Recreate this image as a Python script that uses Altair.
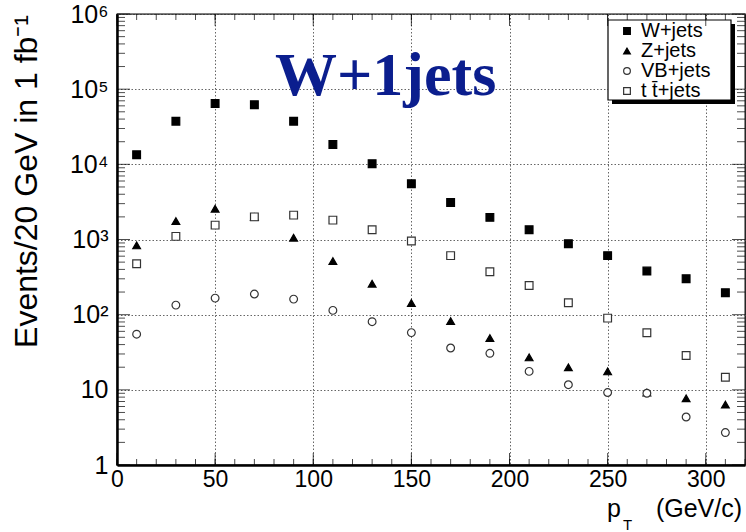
import altair as alt
import pandas as pd

# ---- data ----
pt_bins = [10, 30, 50, 70, 90, 110, 130, 150, 170, 190, 210, 230, 250, 270, 290, 310]
w_jets = [13400, 37500, 64500, 62000, 37500, 18400, 10200, 5520, 3110, 1970, 1350, 880, 610, 380, 301, 196]
z_jets = [835, 1760, 2570, 1990, 1057, 516, 258, 143, 82, 48.8, 27, 19.9, 17.6, 9.2, 7.7, 6.35]
vb_jets = [55, 134, 166, 188, 161, 114, 80.7, 57.7, 36, 30.6, 17.6, 11.7, 9.2, 9.0, 4.35, 2.7]
tt_jets = [477, 1100, 1553, 2000, 2110, 1810, 1350, 953, 610, 373, 245, 144, 90, 57.6, 28.7, 14.7]

series_names = ["W+jets", "Z+jets", "VB+jets", "t t\u0304+jets"]
series_shapes = ["square", "triangle-up", "circle", "square"]
series_fills = ["black", "black", "white", "white"]
series_strokes = ["black", "black", "#333333", "#333333"]

x_major = [0, 50, 100, 150, 200, 250, 300]
x_minor = list(range(0, 321, 10))
y_major = [1, 10, 100, 1000, 10000, 100000, 1000000]
y_labels = ["1", "10", "10\u00b2", "10\u00b3", "10\u2074", "10\u2075", "10\u2076"]
y_minor = [k * 10 ** d for d in range(6) for k in range(2, 10)]

title_text = "W+1jets"
y_title = "Events/20 GeV in 1 fb\u207b\u00b9"
x_title_main = "p"
x_title_sub = "T"
x_title_unit = "(GeV/c)"

W, H = 628, 451
FONT = "Liberation Sans"

rows = []
for name, vals in zip(series_names, [w_jets, z_jets, vb_jets, tt_jets]):
    for x, v in zip(pt_bins, vals):
        rows.append({"pt": x, "events": v, "series": name})
df = pd.DataFrame(rows)

xscale = alt.Scale(domain=[0, 320], nice=False, zero=False)
yscale = alt.Scale(type="log", domain=[1, 1000000], nice=False)

# label expression built from the label list
expr = "'" + y_labels[-1] + "'"
for v, lab in reversed(list(zip(y_major[:-1], y_labels[:-1]))):
    expr = f"datum.value < {v * 3} ? '{lab}' : " + expr

xaxis = alt.Axis(values=x_major, ticks=False, grid=True, title=None, labelFontSize=23,
                 labelFont=FONT, labelColor="black", labelPadding=3, labelFlush=False,
                 labelOverlap=False, domainColor="black", domainWidth=2.5,
                 gridColor="#666666", gridDash=[1.5, 2], gridWidth=1)
yaxis = alt.Axis(values=y_major, ticks=False, grid=True, title=None, labelFontSize=25,
                 labelFont=FONT, labelColor="black", labelPadding=9, labelFlush=False,
                 labelOverlap=False, labelExpr=expr, domainColor="black", domainWidth=2.5,
                 gridColor="#666666", gridDash=[1.5, 2], gridWidth=1)

legend = alt.Legend(orient="none", legendX=500, legendY=7, title=None,
                    padding=0, labelFont=FONT, labelFontSize=20,
                    labelColor="black", symbolSize=45, symbolStrokeWidth=1.2,
                    symbolStrokeColor="black", rowPadding=0, labelOffset=4)

points = alt.Chart(df).mark_point(size=60, strokeWidth=1.2, opacity=1, fillOpacity=1).encode(
    x=alt.X("pt:Q", scale=xscale, axis=xaxis),
    y=alt.Y("events:Q", scale=yscale, axis=yaxis),
    shape=alt.Shape("series:N", scale=alt.Scale(domain=series_names, range=series_shapes), legend=legend),
    fill=alt.Fill("series:N", scale=alt.Scale(domain=series_names, range=series_fills), legend=legend),
    stroke=alt.Stroke("series:N", scale=alt.Scale(domain=series_names, range=series_strokes), legend=legend),
)


def yticks(vals, length, right):
    xpos = W - length / 2 if right else length / 2
    return alt.Chart(pd.DataFrame({"v": vals})).mark_tick(
        orient="horizontal", color="black", thickness=1, size=length).encode(
        y=alt.Y("v:Q", scale=yscale, axis=yaxis), x=alt.value(xpos))


def xticks(vals, length, top):
    ypos = length / 2 if top else H - length / 2
    return alt.Chart(pd.DataFrame({"v": vals})).mark_tick(
        orient="vertical", color="black", thickness=1, size=length).encode(
        x=alt.X("v:Q", scale=xscale, axis=xaxis), y=alt.value(ypos))


tick_layers = [
    yticks(y_minor, 8, False), yticks(y_major, 13, False),
    yticks(y_minor, 8, True), yticks(y_major, 13, True),
    xticks(x_minor, 6, False), xticks(x_major, 12, False),
    xticks(x_minor, 6, True), xticks(x_major, 12, True),
]

one = pd.DataFrame({"k": [0]})
# legend frame with its drop shadow
shadow = alt.Chart(one).mark_rect(color="black").encode(
    x=alt.value(495), x2=alt.value(618), y=alt.value(10), y2=alt.value(90))
box = alt.Chart(one).mark_rect(fill="white", stroke="black", strokeWidth=1.2).encode(
    x=alt.value(491), x2=alt.value(614), y=alt.value(6), y2=alt.value(86))

title = alt.Chart(one).mark_text(text=title_text, font="Liberation Serif", fontWeight="bold",
                                 fontSize=62, color="#0b1e8e", align="left",
                                 baseline="alphabetic").encode(x=alt.value(158), y=alt.value(81))

ytitle = alt.Chart(one).mark_text(text=y_title, font=FONT, fontSize=32, color="black", angle=270,
                                  align="right", baseline="alphabetic").encode(
    x=alt.value(-80), y=alt.value(1))

xt_unit = alt.Chart(one).mark_text(text=x_title_unit, font=FONT, fontSize=25, color="black",
                                   align="right", baseline="alphabetic").encode(
    x=alt.value(625), y=alt.value(503))
xt_main = alt.Chart(one).mark_text(text=x_title_main, font=FONT, fontSize=25, color="black",
                                   align="left", baseline="alphabetic").encode(
    x=alt.value(490), y=alt.value(503))
xt_sub = alt.Chart(one).mark_text(text=x_title_sub, font=FONT, fontSize=15, color="black",
                                  align="left", baseline="alphabetic").encode(
    x=alt.value(506), y=alt.value(516))

chart = alt.layer(shadow, box, *tick_layers, points, title, ytitle, xt_unit, xt_main, xt_sub).properties(
    width=W, height=H,
    autosize=alt.AutoSizeParams(type="none"),
    padding={"left": 117, "top": 14, "right": 1, "bottom": 67},
    background="white",
).configure_view(stroke="black", strokeWidth=1.3)

chart.save("out.html", embed_options={"renderer": "svg", "actions": False})
